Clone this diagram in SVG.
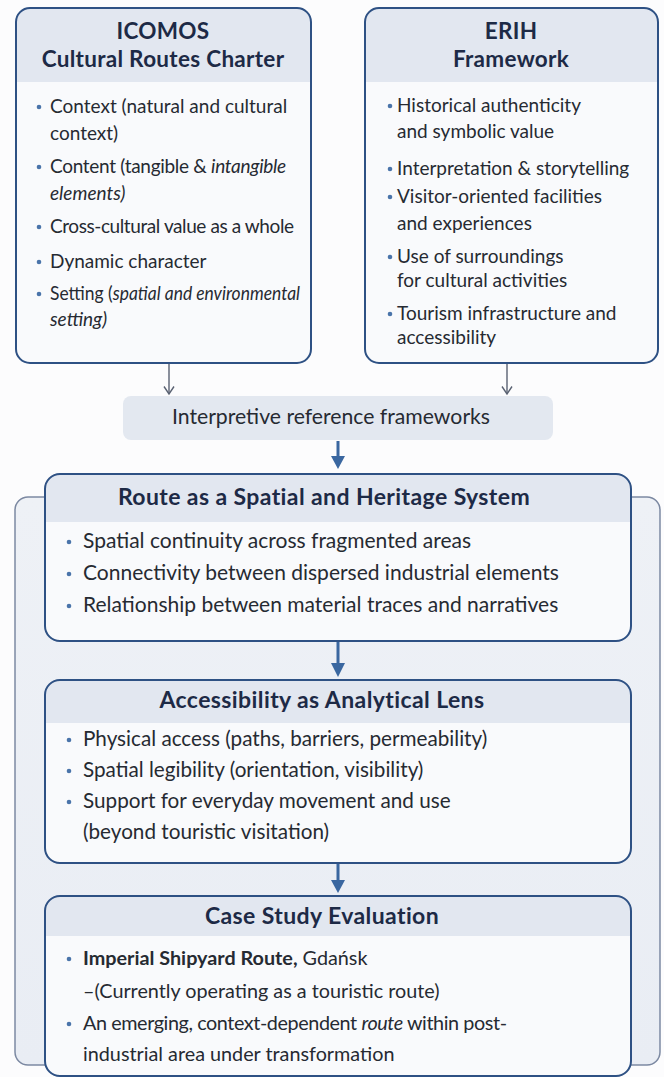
<svg xmlns="http://www.w3.org/2000/svg" width="664" height="1077" viewBox="0 0 664 1077">
  <style>
    .title { font-family: Lato, "Open Sans", sans-serif; font-weight: 700; font-size: 22.5px; letter-spacing: 0.3px; fill: #1d2a46; text-anchor: middle; }
    .title2 { font-family: Lato, "Open Sans", sans-serif; font-weight: 700; font-size: 23px; letter-spacing: 0.4px; fill: #1d2a46; text-anchor: middle; }
    .body { font-family: Lato, "Open Sans", sans-serif; font-size: 19px; fill: #262a32; }
    .body2 { font-family: Lato, "Open Sans", sans-serif; font-size: 21px; fill: #262a32; }
    .body3 { font-family: Lato, "Open Sans", sans-serif; font-size: 20.7px; fill: #262a32; }
    .body4 { font-family: Lato, "Open Sans", sans-serif; font-size: 19.8px; fill: #262a32; }
    .it { font-style: italic; }
    .b { font-weight: 700; }
    .card { fill: #f9fafc; stroke: none; }
    .edge { fill: none; stroke: #2e5184; stroke-width: 2; }
    .head { fill: #e2e7f0; }
    .dot { fill: #4a74aa; }
    .thin { stroke: #5a6272; stroke-width: 1.4; fill: none; }
    .thick { stroke: #3a67a0; stroke-width: 3; fill: none; }
  </style>
  <defs>
    <marker id="open" viewBox="0 0 10 12" refX="8.5" refY="6" markerWidth="10" markerHeight="12" markerUnits="userSpaceOnUse" orient="auto">
      <path d="M1,1 L8.5,6 L1,11" fill="none" stroke="#5a6272" stroke-width="1.4"/>
    </marker>
    <linearGradient id="frameFill" x1="0" y1="0" x2="0" y2="1">
      <stop offset="0" stop-color="#eef1f6"/>
      <stop offset="1" stop-color="#e9edf4"/>
    </linearGradient>
  </defs>

  <rect width="664" height="1077" fill="#fcfcfd"/>

  <!-- outer frame behind the analysis stages -->
  <rect id="stage-frame" x="15" y="497" width="645" height="568" rx="13" fill="url(#frameFill)" stroke="#7c89a2" stroke-width="1.5"/>

  <!-- ICOMOS charter -->
  <g id="icomos">
    <rect class="card" x="16" y="8" width="295" height="355" rx="14"/>
    <path class="head" d="M16,82 V22 A14,14 0 0 1 30,8 H297 A14,14 0 0 1 311,22 V82 Z"/>
    <rect class="edge" x="16" y="8" width="295" height="355" rx="14"/>
    <text class="title" x="163" y="39">ICOMOS</text>
    <text class="title" x="163" y="67">Cultural Routes Charter</text>
    <circle class="dot" cx="39" cy="107" r="2.3"/>
    <text class="body" x="50" y="113">Context (natural and cultural</text>
    <text class="body" x="50" y="140">context)</text>
    <circle class="dot" cx="39" cy="167" r="2.3"/>
    <text class="body" x="50" y="173" textLength="236" lengthAdjust="spacing">Content (tangible &amp; <tspan class="it">intangible</tspan></text>
    <text class="body it" x="50" y="200">elements)</text>
    <circle class="dot" cx="39" cy="227" r="2.3"/>
    <text class="body" x="50" y="233" textLength="244" lengthAdjust="spacing">Cross-cultural value as a whole</text>
    <circle class="dot" cx="39" cy="262" r="2.3"/>
    <text class="body" x="50" y="268">Dynamic character</text>
    <circle class="dot" cx="39" cy="294" r="2.3"/>
    <text class="body" x="50" y="300" textLength="250" lengthAdjust="spacingAndGlyphs">Setting (<tspan class="it">spatial and environmental</tspan></text>
    <text class="body it" x="50" y="326">setting)</text>
  </g>

  <!-- ERIH framework -->
  <g id="erih">
    <rect class="card" x="365" y="8" width="293" height="355" rx="14"/>
    <path class="head" d="M365,82 V22 A14,14 0 0 1 379,8 H644 A14,14 0 0 1 658,22 V82 Z"/>
    <rect class="edge" x="365" y="8" width="293" height="355" rx="14"/>
    <text class="title" x="511" y="39">ERIH</text>
    <text class="title" x="511" y="67">Framework</text>
    <circle class="dot" cx="390" cy="106" r="2.3"/>
    <text class="body" x="397" y="112">Historical authenticity</text>
    <text class="body" x="397" y="138">and symbolic value</text>
    <circle class="dot" cx="390" cy="169" r="2.3"/>
    <text class="body" x="397" y="175">Interpretation &amp; storytelling</text>
    <circle class="dot" cx="390" cy="197" r="2.3"/>
    <text class="body" x="397" y="203">Visitor-oriented facilities</text>
    <text class="body" x="397" y="230">and experiences</text>
    <circle class="dot" cx="390" cy="257" r="2.3"/>
    <text class="body" x="397" y="263">Use of surroundings</text>
    <text class="body" x="397" y="287">for cultural activities</text>
    <circle class="dot" cx="390" cy="314" r="2.3"/>
    <text class="body" x="397" y="320">Tourism infrastructure and</text>
    <text class="body" x="397" y="344">accessibility</text>
  </g>

  <!-- shared label -->
  <g id="reference-frameworks">
    <rect x="123" y="396" width="430" height="44" rx="8" fill="#e3e8f0"/>
    <text x="331" y="424" text-anchor="middle" font-family="Lato, 'Open Sans', sans-serif" font-size="21.2" fill="#262a32">Interpretive reference frameworks</text>
  </g>

  <!-- route as system -->
  <g id="route-system">
    <rect class="card" x="45" y="474" width="586" height="167" rx="15"/>
    <path class="head" d="M45,522 V489 A15,15 0 0 1 60,474 H616 A15,15 0 0 1 631,489 V522 Z"/>
    <rect class="edge" x="45" y="474" width="586" height="167" rx="15"/>
    <text class="title2" x="324" y="505">Route as a Spatial and Heritage System</text>
    <circle class="dot" cx="69" cy="542" r="2.3"/>
    <text class="body2" x="83" y="548">Spatial continuity across fragmented areas</text>
    <circle class="dot" cx="69" cy="574" r="2.3"/>
    <text class="body2" x="83" y="580">Connectivity between dispersed industrial elements</text>
    <circle class="dot" cx="69" cy="606" r="2.3"/>
    <text class="body2" x="83" y="612">Relationship between material traces and narratives</text>
  </g>

  <!-- accessibility lens -->
  <g id="accessibility-lens">
    <rect class="card" x="45" y="680" width="586" height="183" rx="15"/>
    <path class="head" d="M45,723 V695 A15,15 0 0 1 60,680 H616 A15,15 0 0 1 631,695 V723 Z"/>
    <rect class="edge" x="45" y="680" width="586" height="183" rx="15"/>
    <text class="title2" x="322" y="708">Accessibility as Analytical Lens</text>
    <circle class="dot" cx="69" cy="740" r="2.3"/>
    <text class="body3" x="83" y="746">Physical access (paths, barriers, permeability)</text>
    <circle class="dot" cx="69" cy="771" r="2.3"/>
    <text class="body3" x="83" y="777">Spatial legibility (orientation, visibility)</text>
    <circle class="dot" cx="69" cy="802" r="2.3"/>
    <text class="body3" x="83" y="808">Support for everyday movement and use</text>
    <text class="body3" x="83" y="839">(beyond touristic visitation)</text>
  </g>

  <!-- case study -->
  <g id="case-study">
    <rect class="card" x="45" y="896" width="586" height="180" rx="15"/>
    <path class="head" d="M45,936 V911 A15,15 0 0 1 60,896 H616 A15,15 0 0 1 631,911 V936 Z"/>
    <rect class="edge" x="45" y="896" width="586" height="180" rx="15"/>
    <text class="title2" x="322" y="924">Case Study Evaluation</text>
    <circle class="dot" cx="69" cy="959" r="2.3"/>
    <text class="body4" x="83" y="965"><tspan class="b">Imperial Shipyard Route,</tspan> Gdańsk</text>
    <text class="body4" x="83" y="998">–(Currently operating as a touristic route)</text>
    <circle class="dot" cx="69" cy="1024" r="2.3"/>
    <text class="body4" x="83" y="1030" textLength="424" lengthAdjust="spacing">An emerging, context-dependent <tspan class="it">route</tspan> within post-</text>
    <text class="body4" x="83" y="1061">industrial area under transformation</text>
  </g>

  <!-- connectors -->
  <g id="connectors">
    <line class="thin" x1="169" y1="364" x2="169" y2="394" marker-end="url(#open)"/>
    <line class="thin" x1="507" y1="364" x2="507" y2="394" marker-end="url(#open)"/>
    <line class="thick" x1="338" y1="441" x2="338" y2="458"/>
    <path d="M331,456 L345,456 L338,469 Z" fill="#3a67a0"/>
    <line class="thick" x1="338" y1="642" x2="338" y2="665"/>
    <path d="M331,663 L345,663 L338,677 Z" fill="#3a67a0"/>
    <line class="thick" x1="338" y1="864" x2="338" y2="881"/>
    <path d="M331,880 L345,880 L338,893 Z" fill="#3a67a0"/>
  </g>
</svg>
